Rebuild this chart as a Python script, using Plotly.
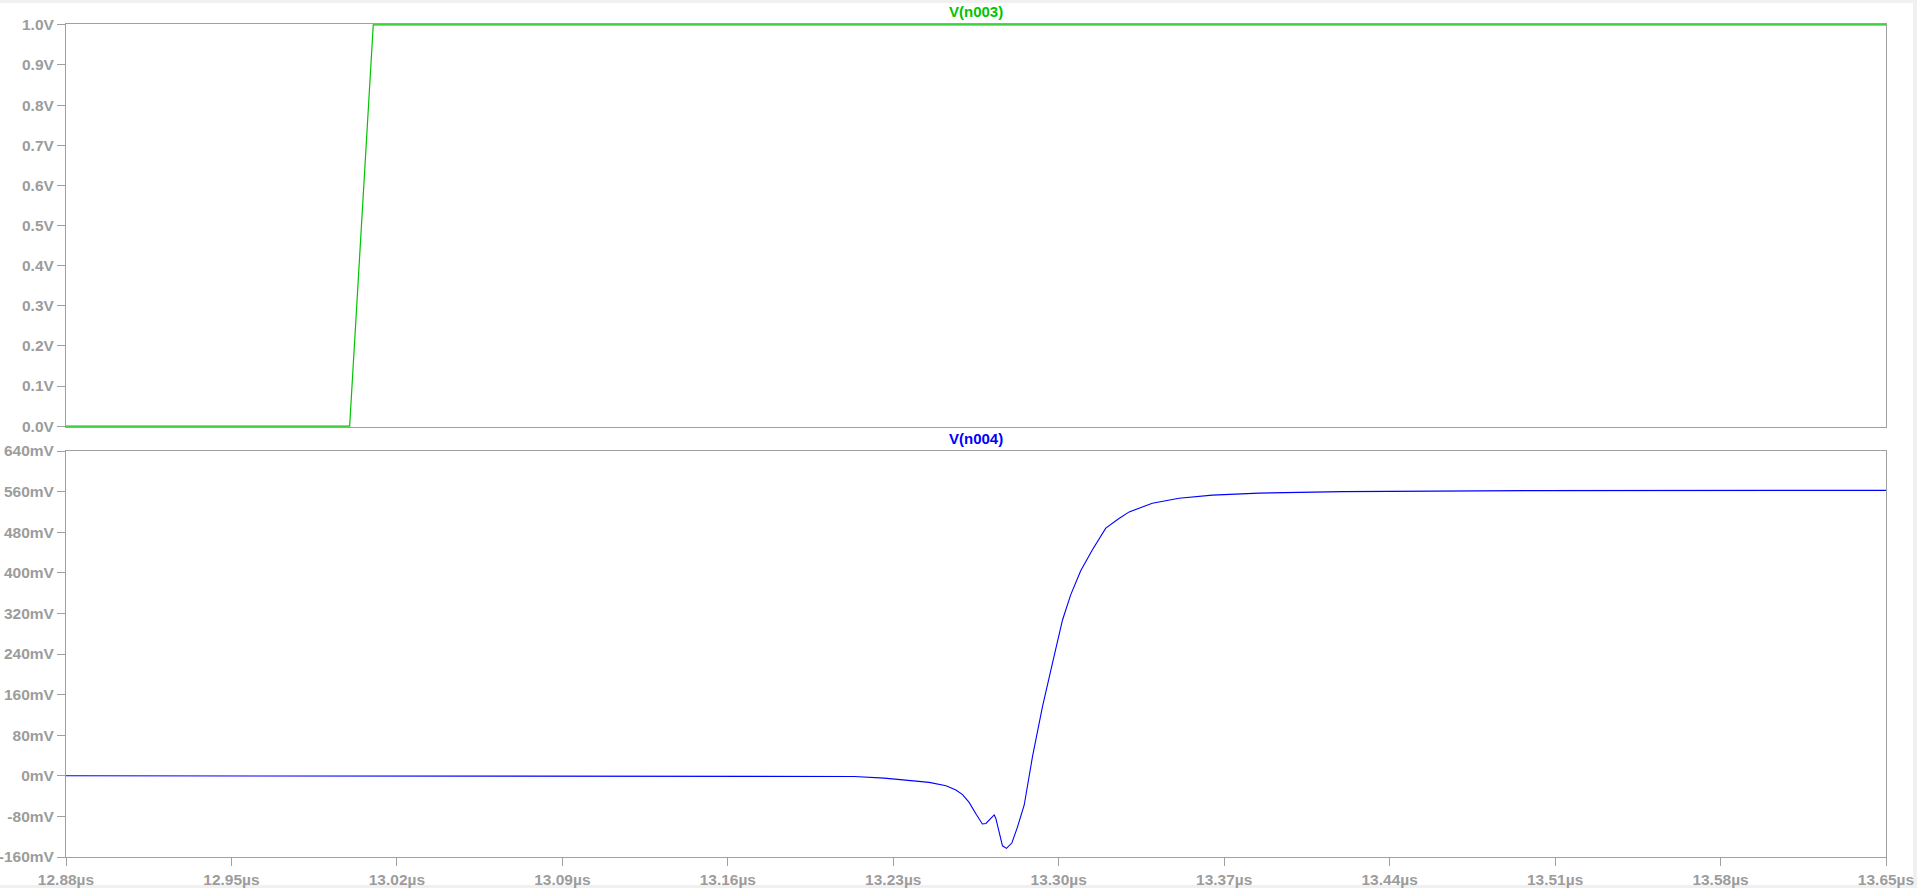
import plotly.graph_objects as go

# ---- data ----
t_n003 = [12.88, 13.000, 13.010, 13.65]          # µs
v_n003 = [0.0, 0.0, 1.0, 1.0]                    # V

t_n004 = [12.88, 13.19, 13.2135, 13.2262, 13.2368, 13.2452, 13.2523, 13.2565, 13.2593,
          13.2621, 13.2650, 13.2677, 13.2692, 13.2727, 13.2734, 13.2762, 13.2779, 13.2802,
          13.2825, 13.2854, 13.2889, 13.2931, 13.2975, 13.3016, 13.3051, 13.3093, 13.3142,
          13.3199, 13.3255, 13.3298, 13.3396, 13.3509, 13.3650, 13.3847, 13.42, 13.50, 13.65]
v_n004 = [0.0, 0.0, -1.3, -4.6, -8.5, -13.0, -19.6, -28.0, -37.0,
          -52.5, -75.3, -95.0, -94.0, -77.0, -84.0, -138.0, -143.0, -132.0,
          -101.5, -57.5, 37.7, 136.0, 225.0, 307.0, 357.0, 404.0, 445.0,
          488.0, 507.0, 520.0, 537.0, 547.0, 553.0, 557.0, 560.0, 562.0, 562.5]  # mV

x_tickvals = [12.88, 12.95, 13.02, 13.09, 13.16, 13.23, 13.30, 13.37, 13.44, 13.51, 13.58, 13.65]
x_ticktext = ["12.88µs", "12.95µs", "13.02µs", "13.09µs", "13.16µs", "13.23µs", "13.30µs",
              "13.37µs", "13.44µs", "13.51µs", "13.58µs", "13.65µs"]
y1_tickvals = [0.0, 0.1, 0.2, 0.3, 0.4, 0.5, 0.6, 0.7, 0.8, 0.9, 1.0]
y1_ticktext = ["0.0V", "0.1V", "0.2V", "0.3V", "0.4V", "0.5V", "0.6V", "0.7V", "0.8V", "0.9V", "1.0V"]
y2_tickvals = [-160, -80, 0, 80, 160, 240, 320, 400, 480, 560, 640]
y2_ticktext = ["-160mV", "-80mV", "0mV", "80mV", "160mV", "240mV", "320mV", "400mV", "480mV", "560mV", "640mV"]

GREEN = "#00c400"
BLUE = "#0000ff"
AXC = "#a0a0a0"
FAMILY = "Liberation Sans, Arial, sans-serif"

W, H = 1917, 888
L, R, T, B = 66, 31, 24, 31
ph = H - T - B
pw = W - L - R

def py(pix):  # pixel y from top -> paper fraction
    return (H - B - pix) / ph

def px(pix):
    return (pix - L) / pw

fig = go.Figure()
fig.add_trace(go.Scatter(x=t_n003, y=v_n003, mode="lines", line=dict(color=GREEN, width=1.2),
                         xaxis="x", yaxis="y", showlegend=False, hoverinfo="x+y"))
fig.add_trace(go.Scatter(x=t_n004, y=v_n004, mode="lines", line=dict(color=BLUE, width=1.1),
                         xaxis="x2", yaxis="y2", showlegend=False, hoverinfo="x+y"))

axis_common = dict(showline=True, mirror=True, linecolor=AXC, linewidth=1, showgrid=False,
                   zeroline=False, automargin=False,
                   tickfont=dict(family=FAMILY, size=15.5, color="#9c9c9c", weight="bold"),
                   tickcolor=AXC)

fig.update_layout(
    width=W, height=H,
    margin=dict(l=L, r=R, t=T, b=B, autoexpand=False),
    paper_bgcolor="white", plot_bgcolor="white",
    xaxis=dict(axis_common, range=[12.88, 13.65], domain=[0, 1], anchor="y",
               showticklabels=False, ticks="", matches="x2"),
    yaxis=dict(axis_common, range=[-0.002, 1.002], domain=[py(427), 1.0], anchor="x",
               tickvals=y1_tickvals, ticktext=y1_ticktext, ticks="outside", ticklen=8),
    xaxis2=dict(axis_common, range=[12.88, 13.65], domain=[0, 1], anchor="y2",
                tickvals=x_tickvals, ticktext=x_ticktext, ticks="outside", ticklen=8),
    yaxis2=dict(axis_common, range=[-160, 640], domain=[0, py(451)], anchor="x2",
                tickvals=y2_tickvals, ticktext=y2_ticktext, ticks="outside", ticklen=8),
    annotations=[
        dict(text="<b>V(n003)</b>", x=0.5, y=py(12), xref="paper", yref="paper",
             showarrow=False, font=dict(family=FAMILY, size=15, color=GREEN),
             xanchor="center", yanchor="middle"),
        dict(text="<b>V(n004)</b>", x=0.5, y=py(439), xref="paper", yref="paper",
             showarrow=False, font=dict(family=FAMILY, size=15, color=BLUE),
             xanchor="center", yanchor="middle"),
    ],
    shapes=[
        dict(type="rect", xref="paper", yref="paper", x0=px(0), x1=px(W), y0=py(3), y1=py(0),
             fillcolor="#f0f0f0", line=dict(width=0), layer="below"),
        dict(type="rect", xref="paper", yref="paper", x0=px(0), x1=px(W), y0=py(H), y1=py(885),
             fillcolor="#f0f0f0", line=dict(width=0), layer="below"),
        dict(type="rect", xref="paper", yref="paper", x0=px(1913), x1=px(W), y0=py(H), y1=py(0),
             fillcolor="#f0f0f0", line=dict(width=0), layer="below"),
    ],
)

fig.write_html(
    "out.html",
    config={"displayModeBar": False},
    post_script="document.body.style.margin='0';document.body.style.overflow='hidden';",
)
